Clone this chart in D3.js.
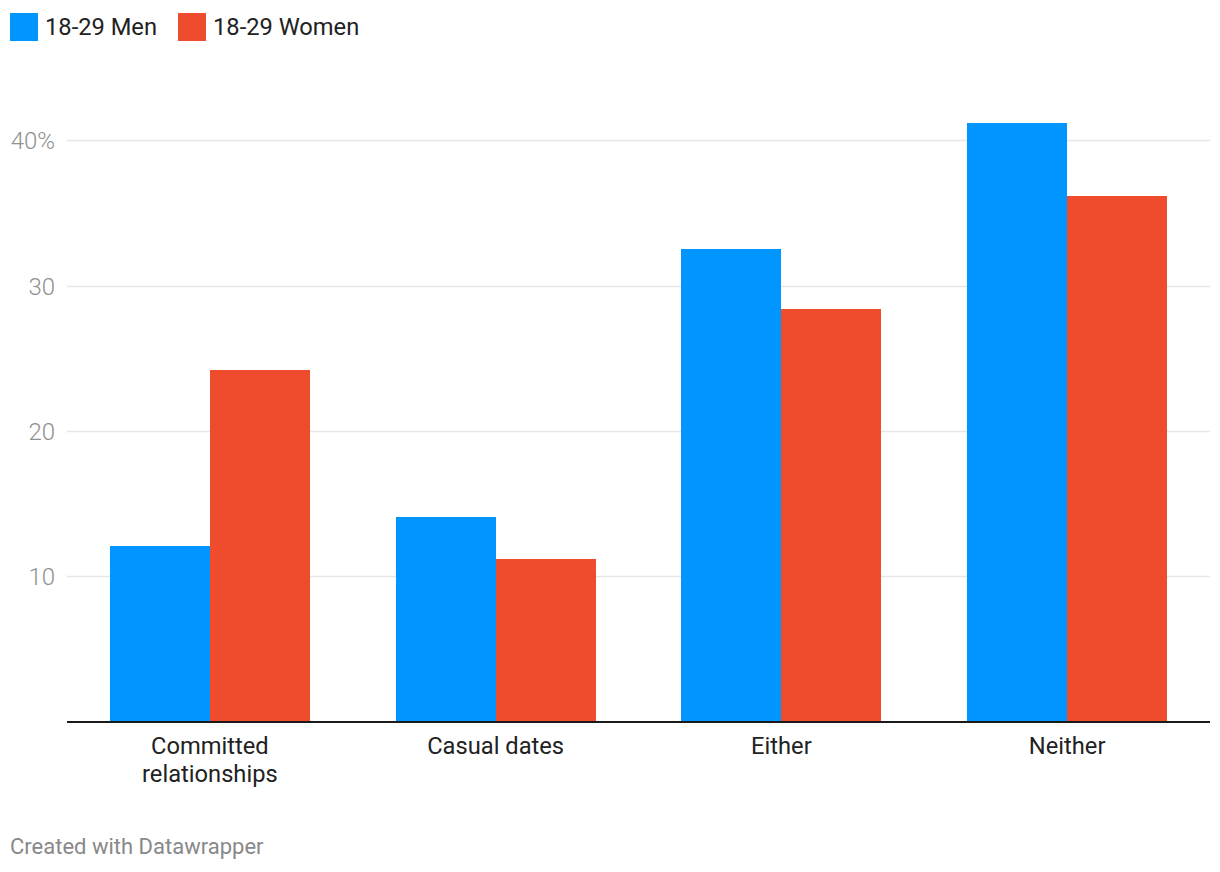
<!DOCTYPE html>
<html>
<head>
<meta charset="utf-8">
<script src="https://cdn.jsdelivr.net/npm/d3@7"></script>
<style>
  html, body { margin: 0; padding: 0; background: #fff; }
  svg { display: block; font-family: Roboto, "Noto Sans", sans-serif; }
</style>
</head>
<body>
<svg id="chart" width="1220" height="872"></svg>
<script>
const categories = ["Committed relationships", "Casual dates", "Either", "Neither"];
const categoryLines = [["Committed", "relationships"], ["Casual dates"], ["Either"], ["Neither"]];
const seriesNames = ["18-29 Men", "18-29 Women"];
const menValues = [12.1, 14.1, 32.5, 41.2];
const womenValues = [24.2, 11.2, 28.4, 36.2];
const tickValues = [10, 20, 30, 40];
const tickLabels = ["10", "20", "30", "40%"];
const colors = ["#0095ff", "#ee4c2c"];

const svg = d3.select("#chart");
const left = 67, right = 1210, y0 = 721.5, y40 = 140.3;

const x = d3.scaleBand().domain(categories).range([left, right]).paddingInner(0.3).paddingOuter(0.15);
const xs = d3.scaleBand().domain(seriesNames).range([0, x.bandwidth()]);
const y = d3.scaleLinear().domain([0, 40]).range([y0, y40]);

// gridlines
const grid = svg.append("g");
grid.selectAll("line").data(tickValues).join("line")
  .attr("x1", left).attr("x2", right)
  .attr("y1", d => Math.round(y(d)) + 0.5).attr("y2", d => Math.round(y(d)) + 0.5)
  .attr("stroke", "#e6e6e6").attr("stroke-width", 1.5);

// y tick labels
const yAxis = d3.axisLeft(y).tickValues(tickValues).tickFormat((d, i) => tickLabels[i]).tickSize(0).tickPadding(0);
const ga = svg.append("g").attr("transform", `translate(55,0)`).call(yAxis);
ga.select(".domain").remove();
ga.selectAll("text").attr("fill", "#909090").style("font-size", "24px").style("font-weight", "300")
  .style("font-family", "Roboto, sans-serif").attr("dy", "0.35em");

// bars
const series = [menValues, womenValues];
const data = [];
categories.forEach((c, i) => {
  seriesNames.forEach((s, j) => data.push({ c, s, v: series[j][i], color: colors[j] }));
});
svg.append("g").attr("shape-rendering", "crispEdges").selectAll("rect").data(data).join("rect")
  .attr("x", d => Math.round(x(d.c) + xs(d.s)))
  .attr("width", d => Math.round(x(d.c) + xs(d.s) + xs.bandwidth()) - Math.round(x(d.c) + xs(d.s)))
  .attr("y", d => Math.round(y(d.v)))
  .attr("height", d => 722 - Math.round(y(d.v)))
  .attr("fill", d => d.color);

// baseline
svg.append("line").attr("x1", left).attr("x2", right)
  .attr("y1", 722).attr("y2", 722).attr("stroke", "#1a1a1a").attr("stroke-width", 2);

// x labels
const xl = svg.append("g");
categories.forEach((c, i) => {
  const t = xl.append("text").attr("x", x(c) + x.bandwidth() / 2).attr("y", 754)
    .attr("text-anchor", "middle").attr("fill", "#222").style("font-size", "23.7px");
  categoryLines[i].forEach((ln, k) => {
    t.append("tspan").attr("x", x(c) + x.bandwidth() / 2).attr("dy", k === 0 ? 0 : 28).text(ln);
  });
});

// legend
const legX = [10, 178];
const leg = svg.append("g");
seriesNames.forEach((s, j) => {
  leg.append("rect").attr("x", legX[j]).attr("y", 13).attr("width", 28).attr("height", 28).attr("fill", colors[j]);
  leg.append("text").attr("x", legX[j] + 35).attr("y", 35).attr("fill", "#222").style("font-size", "23.7px").text(s);
});

// footer
svg.append("text").attr("x", 10).attr("y", 854).attr("fill", "#888").style("font-size", "22px").text("Created with Datawrapper");
</script>
</body>
</html>
